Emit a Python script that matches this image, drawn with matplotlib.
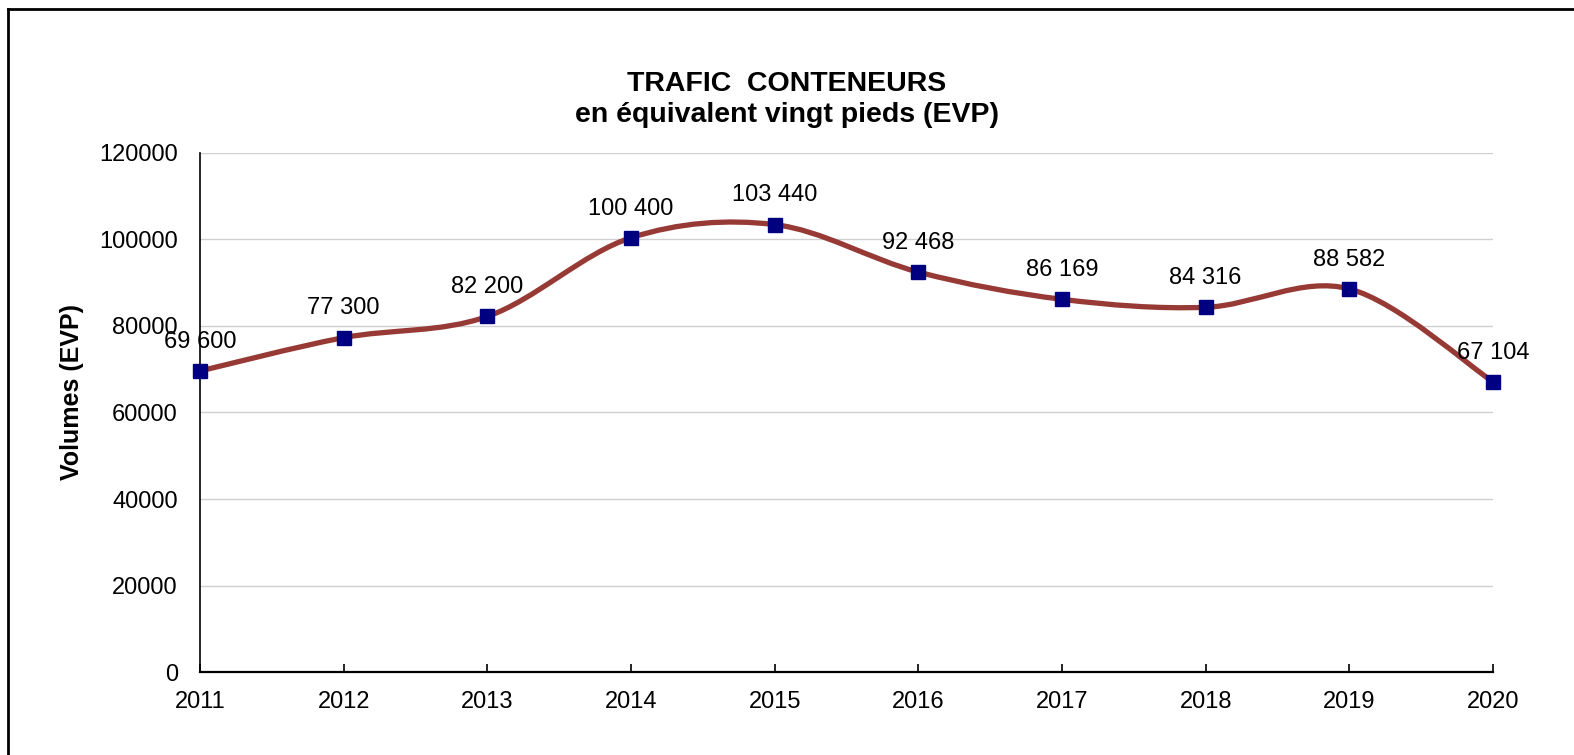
import matplotlib
matplotlib.use('Agg')
import matplotlib.pyplot as plt
import numpy as np
from matplotlib.path import Path
from matplotlib.patches import PathPatch
from matplotlib.lines import Line2D

plt.rcParams['font.family'] = ['Liberation Sans', 'DejaVu Sans']

# Données
annees = [2011, 2012, 2013, 2014, 2015, 2016, 2017, 2018, 2019, 2020]
volumes = [69600, 77300, 82200, 100400, 103440, 92468, 86169, 84316, 88582, 67104]
etiquettes = ['69 600', '77 300', '82 200', '100 400', '103 440',
              '92 468', '86 169', '84 316', '88 582', '67 104']
yticks = [0, 20000, 40000, 60000, 80000, 100000, 120000]

couleur_ligne = '#973a36'
couleur_marqueur = '#000080'

fig = plt.figure(figsize=(15.74, 7.55), dpi=100)
ax = fig.add_axes([0.1271, 0.1099, 0.8214, 0.6875])

# courbe lissée (style Excel) : segments de Bézier entre les points
x = np.array(annees, dtype=float)
y = np.array(volumes, dtype=float)
n = len(x)
verts = [(x[0], y[0])]
codes = [Path.MOVETO]
for i in range(n - 1):
    x0, y0 = (x[i - 1], y[i - 1]) if i > 0 else (x[i], y[i])
    x3, y3 = (x[i + 2], y[i + 2]) if i + 2 < n else (x[i + 1], y[i + 1])
    c1 = (x[i] + (x[i + 1] - x0) / 6, y[i] + (y[i + 1] - y0) / 6)
    c2 = (x[i + 1] - (x3 - x[i]) / 6, y[i + 1] - (y3 - y[i]) / 6)
    verts += [c1, c2, (x[i + 1], y[i + 1])]
    codes += [Path.CURVE4] * 3
courbe = PathPatch(Path(verts, codes), facecolor='none', edgecolor=couleur_ligne,
                   lw=3.8, capstyle='round', joinstyle='round', zorder=3)
ax.add_patch(courbe)

ax.plot(annees, volumes, linestyle='none', marker='s', markersize=10.5,
        color=couleur_marqueur, clip_on=False, zorder=4)

for xi, yi, lab in zip(annees, volumes, etiquettes):
    ax.annotate(lab, (xi, yi), xytext=(0, 21), textcoords='offset points',
                ha='center', va='center', fontsize=17, color='black', zorder=5)

ax.set_xlim(2011, 2020)
ax.set_ylim(0, 120000)
ax.set_yticks(yticks)
ax.set_xticks(annees)
ax.set_xticklabels([str(a) for a in annees])
ax.grid(axis='y', color='#d0d0d0', lw=1)
ax.set_axisbelow(True)

for s in ['top', 'right']:
    ax.spines[s].set_visible(False)
ax.spines['left'].set_color('black')
ax.spines['bottom'].set_color('black')
ax.spines['left'].set_linewidth(1.2)
ax.spines['bottom'].set_linewidth(1.6)

ax.tick_params(axis='x', direction='in', length=6, width=1.2, pad=14, labelsize=17)
ax.tick_params(axis='y', length=0, pad=16, labelsize=17)

ax.set_ylabel('Volumes (EVP)', fontsize=18, fontweight='bold')
ax.yaxis.set_label_coords(-0.090, 0.54)

fig.text(0.5, 0.868, 'TRAFIC  CONTENEURS\nen équivalent vingt pieds (EVP)',
         ha='center', va='center', fontsize=20.5, fontweight='bold',
         linespacing=1.28)

# cadre (bords haut et gauche visibles)
fig.add_artist(Line2D([8 / 1574, 8 / 1574], [0, 1 - 8.5 / 755], color='black', lw=2,
                      transform=fig.transFigure))
fig.add_artist(Line2D([8 / 1574, 1], [1 - 8.5 / 755, 1 - 8.5 / 755], color='black', lw=2,
                      transform=fig.transFigure))

fig.savefig('out.png', dpi=100)
